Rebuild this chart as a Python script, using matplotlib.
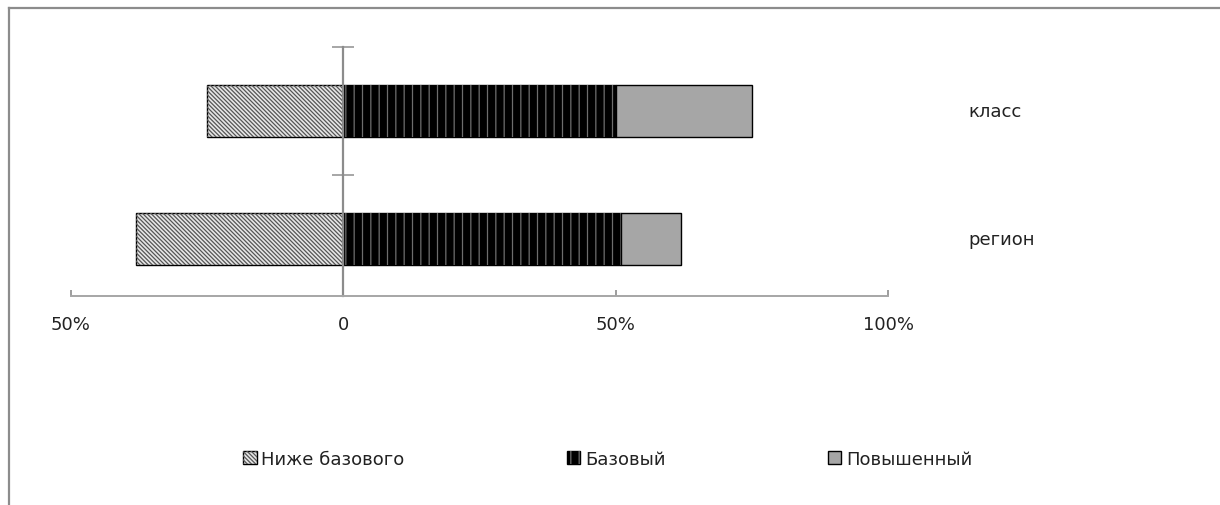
import matplotlib
matplotlib.use("Agg")
import matplotlib.pyplot as plt
from matplotlib.lines import Line2D
from matplotlib.legend_handler import HandlerTuple
import matplotlib.transforms as mtransforms

# data (percent of students)
groups = ["регион", "класс"]
below_basic = [38, 25]
basic = [51, 50]
advanced = [11, 25]

series_names = ["Ниже базового", "Базовый", "Повышенный"]
tick_pos = [-50, 0, 50, 100]
tick_text = ["50%", "0", "50%", "100%"]

plt.rcParams["font.family"] = "DejaVu Sans"
plt.rcParams["hatch.linewidth"] = 0.9

fig = plt.figure(figsize=(12.2, 5.06), dpi=100)
ax = fig.add_axes([71 / 1220, 1 - 297 / 506, (888 - 71) / 1220, (297 - 48) / 506])

y = list(range(len(groups)))
h = 0.4

# below basic: drawn to the left of zero
neg = [-v for v in below_basic]
b1 = ax.barh(y, below_basic, left=neg, height=h, color="#e6e6e6", edgecolor="black", linewidth=1)
b1h = ax.barh(y, below_basic, left=neg, height=h, color="none", edgecolor="#555555",
              linewidth=0, hatch="\\" * 8)

b2 = ax.barh(y, basic, left=0, height=h, color="black", edgecolor="black", linewidth=1)
b2h = ax.barh(y, basic, left=0, height=h, color="none", edgecolor="#6e6e6e",
              linewidth=0, hatch="||")

b3 = ax.barh(y, advanced, left=basic, height=h, color="#a6a6a6", edgecolor="black", linewidth=1)

ax.set_xlim(-50, 100)
ax.set_ylim(-0.445, 1.5)

# axes styling: vertical axis at zero, category boundary ticks
for s in ["top", "right"]:
    ax.spines[s].set_visible(False)
ax.spines["left"].set_position(("data", 0))
ax.spines["left"].set_color("#8c8c8c")
ax.spines["left"].set_linewidth(1.6)
ax.spines["bottom"].set_color("#a6a6a6")
ax.spines["bottom"].set_linewidth(1.4)

ax.set_yticks([0.5, 1.5])
ax.set_yticklabels([])
ax.tick_params(axis="y", direction="inout", length=16, width=1.4, color="#a6a6a6")

ax.set_xticks(tick_pos)
ax.set_xticklabels(tick_text)
ax.tick_params(axis="x", direction="in", length=4, width=1.2, color="#8c8c8c",
               pad=14, labelsize=13, labelcolor="#222222")

# category labels on the right
trans = mtransforms.blended_transform_factory(ax.transAxes, ax.transData)
for yi, name in zip(y, groups):
    ax.text((968 - 71) / (888 - 71), yi, name, transform=trans, ha="left", va="center",
            fontsize=13, color="#222222")

# legend at the bottom
handles = [(b1[0], b1h[0]), (b2[0], b2h[0]), b3[0]]
fig.legend(handles, series_names, handler_map={tuple: HandlerTuple(ndivide=1, pad=0)},
           loc="center left", bbox_to_anchor=(243 / 1220, 1 - 460 / 506), ncol=3,
           frameon=False, borderpad=0, borderaxespad=0,
           fontsize=13, handlelength=0.75, handleheight=0.75, handletextpad=0.25,
           columnspacing=9, labelcolor="#222222")

# outer frame (only top and left edges are visible)
fy = 1 - 9 / 506
fx = 9 / 1220
fig.add_artist(Line2D([fx, 1], [fy, fy], transform=fig.transFigure, color="#8c8c8c", lw=1.6))
fig.add_artist(Line2D([fx, fx], [0, fy], transform=fig.transFigure, color="#8c8c8c", lw=1.6))

fig.savefig("out.png", dpi=100)
